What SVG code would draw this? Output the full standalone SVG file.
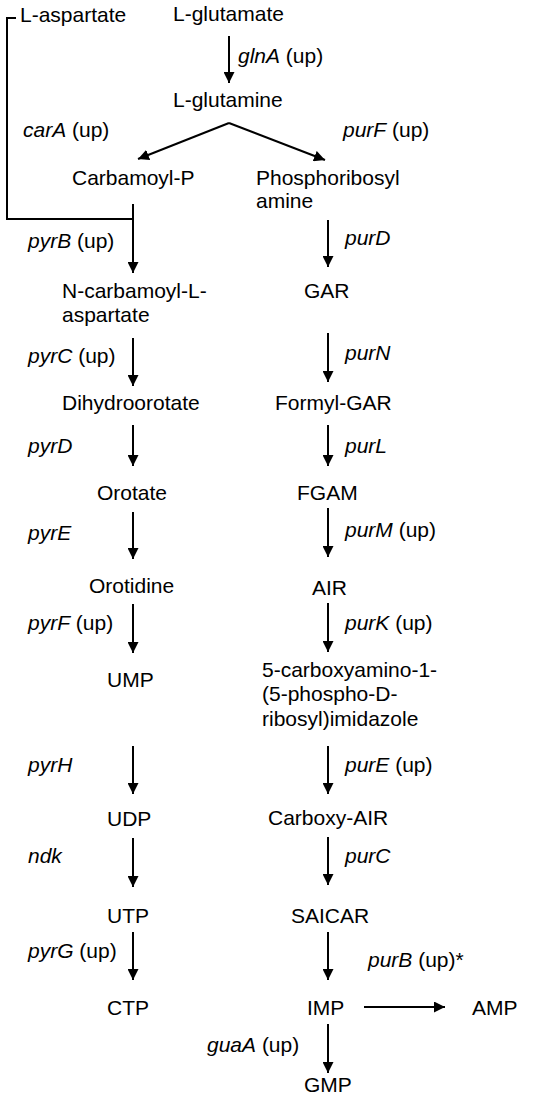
<svg xmlns="http://www.w3.org/2000/svg" width="542" height="1107" viewBox="0 0 542 1107">
<defs>
<marker id="ah" viewBox="0 0 10 10" refX="10" refY="5" markerWidth="5.5" markerHeight="5.5" orient="auto" markerUnits="strokeWidth">
<path d="M0,0 L10,5 L0,10 Z" fill="#000"/>
</marker>
<style>
text{font-family:"Liberation Sans",Arial,sans-serif;font-size:21px;fill:#000}
.g{font-style:italic}
.c{fill:none;stroke:#000;stroke-width:2}
.a{fill:none;stroke:#000;stroke-width:2;marker-end:url(#ah)}
</style>
</defs>
<rect width="542" height="1107" fill="#fff"/>
<g id="connectors">
<path class="a" d="M229,36 V83"/>
<path class="a" d="M229,123 L138,159"/>
<path class="a" d="M229,123 L325,160"/>
<path class="c" d="M16,18 H7 V219 H133"/>
<path class="a" d="M133,204 V273"/>
<path class="a" d="M133,338 V386"/>
<path class="a" d="M133,425 V466"/>
<path class="a" d="M133,512 V559"/>
<path class="a" d="M133,604 V653"/>
<path class="a" d="M133,746 V794"/>
<path class="a" d="M133,838 V887"/>
<path class="a" d="M133,932 V980"/>
<path class="a" d="M328,220 V267"/>
<path class="a" d="M328,333 V382"/>
<path class="a" d="M328,425 V466"/>
<path class="a" d="M328,508 V557"/>
<path class="a" d="M328,603 V652"/>
<path class="a" d="M328,746 V794"/>
<path class="a" d="M328,837 V885"/>
<path class="a" d="M328,932 V980"/>
<path class="a" d="M364,1007 H445"/>
<path class="a" d="M328,1024 V1073"/>
</g>
<g id="labels">
<text x="238" y="63"><tspan class="g">glnA</tspan> (up)</text>
<text x="23" y="137"><tspan class="g">carA</tspan> (up)</text>
<text x="343" y="137"><tspan class="g">purF</tspan> (up)</text>
<text x="28" y="248"><tspan class="g">pyrB</tspan> (up)</text>
<text x="28" y="363"><tspan class="g">pyrC</tspan> (up)</text>
<text x="28" y="453" class="g">pyrD</text>
<text x="28" y="540" class="g">pyrE</text>
<text x="28" y="630"><tspan class="g">pyrF</tspan> (up)</text>
<text x="28" y="772" class="g">pyrH</text>
<text x="28" y="863" class="g">ndk</text>
<text x="28" y="958"><tspan class="g">pyrG</tspan> (up)</text>
<text x="345" y="245" class="g">purD</text>
<text x="345" y="360" class="g">purN</text>
<text x="345" y="453" class="g">purL</text>
<text x="345" y="537"><tspan class="g">purM</tspan> (up)</text>
<text x="345" y="630"><tspan class="g">purK</tspan> (up)</text>
<text x="345" y="772"><tspan class="g">purE</tspan> (up)</text>
<text x="345" y="863" class="g">purC</text>
<text x="368" y="967"><tspan class="g">purB</tspan> (up)*</text>
<text x="207" y="1052"><tspan class="g">guaA</tspan> (up)</text>
</g>
<g id="n-aspartate"><text x="20" y="22">L-aspartate</text></g>
<g id="n-glutamate"><text x="173" y="21">L-glutamate</text></g>
<g id="n-glutamine"><text x="173" y="107">L-glutamine</text></g>
<g id="n-carbamoylp"><text x="72" y="185">Carbamoyl-P</text></g>
<g id="n-pra"><text x="256" y="185">Phosphoribosyl</text><text x="256" y="208">amine</text></g>
<g id="n-ncasp"><text x="62" y="298">N-carbamoyl-L-</text><text x="62" y="322">aspartate</text></g>
<g id="n-dho"><text x="62" y="410">Dihydroorotate</text></g>
<g id="n-orotate"><text x="97" y="500">Orotate</text></g>
<g id="n-orotidine"><text x="89" y="593">Orotidine</text></g>
<g id="n-ump"><text x="107" y="687">UMP</text></g>
<g id="n-udp"><text x="107" y="826">UDP</text></g>
<g id="n-utp"><text x="107" y="923">UTP</text></g>
<g id="n-ctp"><text x="107" y="1015">CTP</text></g>
<g id="n-gar"><text x="304" y="298">GAR</text></g>
<g id="n-fgar"><text x="275" y="410">Formyl-GAR</text></g>
<g id="n-fgam"><text x="297" y="500">FGAM</text></g>
<g id="n-air"><text x="312" y="595">AIR</text></g>
<g id="n-ncair"><text x="262" y="677">5-carboxyamino-1-</text><text x="262" y="701">(5-phospho-D-</text><text x="262" y="726">ribosyl)imidazole</text></g>
<g id="n-cair"><text x="268" y="825">Carboxy-AIR</text></g>
<g id="n-saicar"><text x="291" y="923">SAICAR</text></g>
<g id="n-imp"><text x="307" y="1015">IMP</text></g>
<g id="n-amp"><text x="472" y="1015">AMP</text></g>
<g id="n-gmp"><text x="304" y="1092">GMP</text></g>
</svg>
